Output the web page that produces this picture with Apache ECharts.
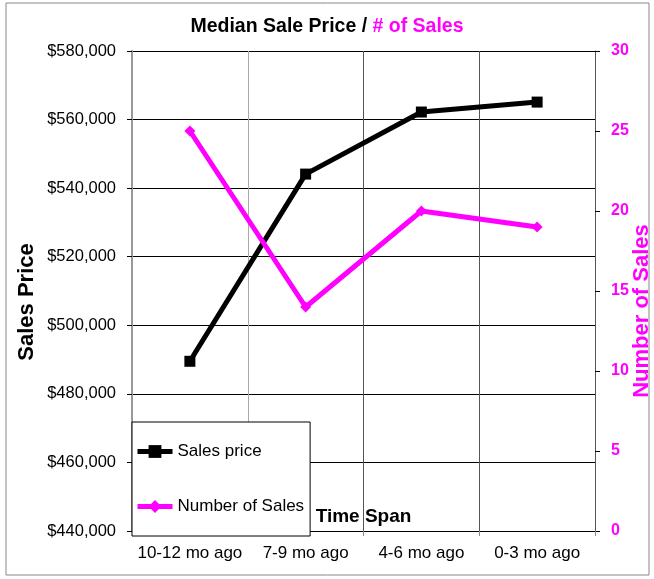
<!DOCTYPE html>
<html>
<head>
<meta charset="utf-8">
<script src="https://cdn.jsdelivr.net/npm/echarts@6/dist/echarts.min.js"></script>
<style>
  html, body { margin: 0; padding: 0; background: #fff; }
  #chart { width: 654px; height: 579px; }
</style>
</head>
<body>
<div id="chart"></div>
<script>
// time span buckets, oldest first
const categories = ["10-12 mo ago", "7-9 mo ago", "4-6 mo ago", "0-3 mo ago"];
const salesPrice = [489500, 544100, 562200, 565100];
const numberOfSales = [25, 14, 20, 19];

const font = "'Liberation Sans', Arial, sans-serif";

function money(v) {
  return "$" + v.toLocaleString("en-US");
}

let chart = echarts.init(document.getElementById("chart"));
chart.setOption({
  animation: false,
  backgroundColor: "#fff",
  title: {
    text: "{a|Median Sale Price / }{b|# of Sales}",
    left: "center",
    top: 12,
    textStyle: {
      rich: {
        a: { fontFamily: font, fontWeight: "bold", fontSize: 19.5, color: "#000" },
        b: { fontFamily: font, fontWeight: "bold", fontSize: 19.5, color: "#ff00ff" }
      }
    }
  },
  graphic: [{
    type: "rect",
    shape: { x: 6, y: 3, width: 643, height: 572 },
    style: { fill: "none", stroke: "#888", lineWidth: 1 },
    silent: true
  }],
  legend: {
    orient: "vertical",
    left: 132,
    top: 422,
    padding: [21, 6, 21, 3],
    itemGap: 38,
    itemWidth: 35,
    itemHeight: 16,
    backgroundColor: "#fff",
    borderColor: "#000",
    borderWidth: 1,
    lineStyle: { width: 5 },
    textStyle: { fontFamily: font, fontSize: 17, color: "#000" }
  },
  grid: { left: 132, right: 59, top: 51, bottom: 48, containLabel: false, outerBoundsMode: "none" },
  xAxis: {
    type: "category",
    data: categories,
    boundaryGap: true,
    name: "Time Span",
    nameLocation: "middle",
    nameGap: -24,
    nameMoveOverlap: false,
    nameTextStyle: { fontFamily: font, fontWeight: "bold", fontSize: 19, color: "#000" },
    axisLine: { lineStyle: { color: "#000", width: 1 } },
    axisTick: { show: true, length: 5, interval: 0, lineStyle: { color: "#888" } },
    axisLabel: { fontFamily: font, fontSize: 17, color: "#000", margin: 14, interval: 0 },
    splitLine: {
      show: true,
      interval: 0,
      lineStyle: { color: ["#aaa", "#aaa", "#555", "#555", "#555"], width: 1 }
    }
  },
  yAxis: [{
    type: "value",
    min: 440000,
    max: 580000,
    interval: 20000,
    name: "Sales Price",
    nameLocation: "middle",
    nameGap: 94,
    nameMoveOverlap: false,
    nameTextStyle: { fontFamily: font, fontWeight: "bold", fontSize: 22, color: "#000", padding: [0, 22, 0, 0] },
    axisLine: { show: true, lineStyle: { color: "#999", width: 2 } },
    axisTick: { show: true, length: 5, lineStyle: { color: "#000" } },
    axisLabel: { fontFamily: font, fontSize: 16.5, color: "#000", margin: 16, formatter: money },
    splitLine: { show: true, lineStyle: { color: "#000", width: 1 } }
  }, {
    type: "value",
    min: 0,
    max: 30,
    interval: 5,
    position: "right",
    name: "Number of Sales",
    nameLocation: "middle",
    nameGap: 36,
    nameRotate: 90,
    nameMoveOverlap: false,
    nameTextStyle: { fontFamily: font, fontWeight: "bold", fontSize: 22, color: "#ff00ff", padding: [0, 40, 0, 0] },
    axisLine: { show: true, lineStyle: { color: "#555", width: 1 } },
    axisTick: { show: true, length: 5, lineStyle: { color: "#000" } },
    axisLabel: { fontFamily: font, fontSize: 16, fontWeight: "bold", color: "#ff00ff", margin: 16 },
    splitLine: { show: false }
  }],
  series: [{
    name: "Sales price",
    type: "line",
    yAxisIndex: 0,
    data: salesPrice,
    symbol: "rect",
    symbolSize: 11,
    lineStyle: { color: "#000", width: 5 },
    itemStyle: { color: "#000" },
    z: 3
  }, {
    name: "Number of Sales",
    type: "line",
    yAxisIndex: 1,
    data: numberOfSales,
    symbol: "diamond",
    symbolSize: 11,
    lineStyle: { color: "#ff00ff", width: 5 },
    itemStyle: { color: "#ff00ff" },
    z: 3
  }]
});
</script>
</body>
</html>
